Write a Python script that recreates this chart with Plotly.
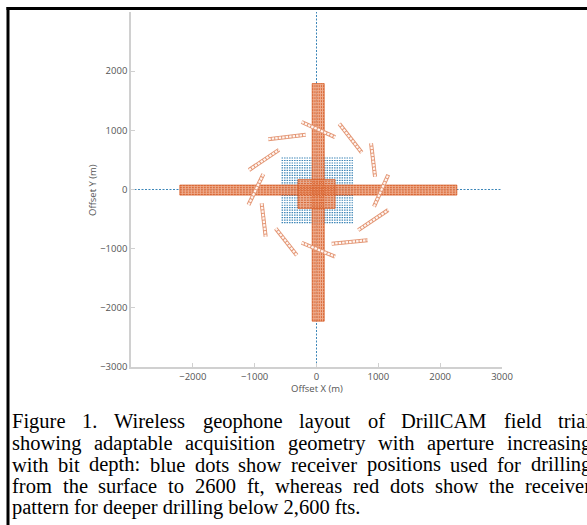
import plotly.graph_objects as go

# ---------------- data (metres) ----------------
# blue receiver rows (shallow drilling patch)
blue_row_y = [-560, -518, -476, -434, -392, -350, -308, -266, -224, -182, -140, -98, -56, -14,
              28, 70, 112, 154, 196, 238, 280, 322, 364, 406, 448, 490, 532]
blue_row_x0 = -565
blue_row_x1 = 590

# blue reference receiver lines through the origin
blue_axis_x = [[-3000, 3000], [0, 0]]
blue_axis_y = [[0, 0], [-3000, 3000]]

# red receiver bands: (x0, x1, y0, y1)
band_x0 = [-2210, -70, -300]
band_x1 = [2270, 125, 300]
band_y0 = [-95, -2225, -320]
band_y1 = [75, 1790, 170]

# rows of receivers inside the horizontal band (y) and vertical band (x)
hband_rows_y = [-85, -55, -25, 5, 35, 65]
vband_cols_x = [-60, -25, 10, 45, 80, 115]
center_rows_y = [-300, -260, -220, -180, -140, -100, -60, -20, 20, 60, 100, 140]

# pinwheel receiver lines (start and end points)
seg_x0 = [-240, -780, -1092, -1100, 369, 882, 930, -887, -660, -240, 676, 246]
seg_y0 = [1140, 851, 330, -260, 1110, 783, -290, -234, -658, -900, -686, -918]
seg_x1 = [300, -175, -607, -860, 731, 947, 1160, -822, -320, 300, 1160, 826]
seg_y1 = [885, 924, 670, 260, 624, 217, 250, -800, -1110, -1135, -347, -856]

x_tickvals = [-2000, -1000, 0, 1000, 2000, 3000]
y_tickvals = [-3000, -2000, -1000, 0, 1000, 2000]

caption_lines = [
    "Figure 1. Wireless geophone layout of DrillCAM field trial",
    "showing adaptable acquisition geometry with aperture increasing",
    "with bit depth: blue dots show receiver positions used for drilling",
    "from the surface to 2600 ft, whereas red dots show the receiver",
    "pattern for deeper drilling below 2,600 fts.",
]

# ---------------- layout constants ----------------
W, H = 587, 525
ML, MR, MT, MB = 131, 85, 12, 158
PW, PH = W - ML - MR, H - MT - MB

def pxx(px):
    return (px - ML) / PW

def pxy(py):
    return (H - MB - py) / PH

BLUE = "#3d86b8"
RED = "#d65a22"
RED_FILL = "rgba(236,160,124,0.85)"

fig = go.Figure()

# blue patch rows
bx, by = [], []
for y in blue_row_y:
    bx += [blue_row_x0, blue_row_x1, None]
    by += [y, y, None]
fig.add_trace(go.Scatter(x=bx, y=by, mode="lines",
                         line=dict(color=BLUE, width=1.2, dash="1.5px,1px"),
                         hoverinfo="skip", showlegend=False))

# blue lines through origin
for xs, ys in zip(blue_axis_x, blue_axis_y):
    fig.add_trace(go.Scatter(x=xs, y=ys, mode="lines",
                             line=dict(color=BLUE, width=1, dash="2px,1.5px"),
                             hoverinfo="skip", showlegend=False))

# red bands (filled)
for x0, x1, y0, y1 in zip(band_x0, band_x1, band_y0, band_y1):
    fig.add_trace(go.Scatter(x=[x0, x1, x1, x0, x0], y=[y0, y0, y1, y1, y0],
                             mode="lines", fill="toself", fillcolor=RED_FILL,
                             line=dict(color="rgba(214,90,34,0.7)", width=1),
                             hoverinfo="skip", showlegend=False))

# receiver rows inside the bands
rx, ry = [], []
for y in hband_rows_y:
    rx += [band_x0[0], band_x1[0], None]
    ry += [y, y, None]
for x in vband_cols_x:
    rx += [x, x, None]
    ry += [band_y0[1], band_y1[1], None]
for y in center_rows_y:
    rx += [band_x0[2], band_x1[2], None]
    ry += [y, y, None]
fig.add_trace(go.Scatter(x=rx, y=ry, mode="lines",
                         line=dict(color=RED, width=1, dash="2px,1px"),
                         opacity=0.8, hoverinfo="skip", showlegend=False))

# pinwheel ladders: orange outline + white core with gaps -> rungs
sx, sy = [], []
for a, b, c, d in zip(seg_x0, seg_y0, seg_x1, seg_y1):
    sx += [a, c, None]
    sy += [b, d, None]
fig.add_trace(go.Scatter(x=sx, y=sy, mode="lines",
                         line=dict(color="#e39573", width=4),
                         hoverinfo="skip", showlegend=False))
fig.add_trace(go.Scatter(x=sx, y=sy, mode="lines",
                         line=dict(color="#fff6f2", width=2.2, dash="2.5px,1px"),
                         hoverinfo="skip", showlegend=False))

axis_font = dict(family="Open Sans", size=9.5, color="#555555")
fig.update_xaxes(range=[-3000, 3000], tickvals=x_tickvals,
                 ticktext=[f"{v}".replace("-", "\u2212") for v in x_tickvals],
                 showgrid=False, zeroline=False, showline=True,
                 linecolor="#d0d0d0", linewidth=1.5, ticks="inside", ticklen=4,
                 tickcolor="#d0d0d0", tickfont=axis_font)
fig.update_yaxes(range=[-3000, 3000], tickvals=y_tickvals,
                 ticktext=[f"{v}".replace("-", "\u2212") for v in y_tickvals],
                 showgrid=False, zeroline=False, showline=True,
                 linecolor="#d0d0d0", linewidth=1.5, ticks="inside", ticklen=4,
                 tickcolor="#d0d0d0", tickfont=axis_font)

annotations = [
    dict(text="Offset X (m)", xref="paper", yref="paper", x=pxx(317), y=pxy(388),
         showarrow=False, font=axis_font, xanchor="center", yanchor="middle"),
    dict(text="Offset Y (m)", xref="paper", yref="paper", x=pxx(92), y=pxy(190),
         showarrow=False, font=axis_font, textangle=-90, xanchor="center", yanchor="middle"),
]

# ---- caption, justified: word positions from Times/Liberation Serif advance widths ----
TIMES_W = {
    " ": 250, ",": 250, ".": 250, ":": 278, "0": 500, "1": 500, "2": 500, "6": 500,
    "A": 722, "C": 667, "D": 722, "F": 556, "M": 889, "W": 944,
    "a": 444, "b": 500, "c": 444, "d": 500, "e": 444, "f": 333, "g": 500, "h": 500,
    "i": 278, "l": 278, "m": 778, "n": 500, "o": 500, "p": 500, "q": 500, "r": 333,
    "s": 389, "t": 278, "u": 500, "v": 500, "w": 722, "y": 500,
}
CAP_SIZE = 20.5
CAP_LEFT, CAP_RIGHT = 11, 590

def text_w(s):
    return sum(TIMES_W.get(ch, 500) for ch in s) * CAP_SIZE / 1000.0

line_centers = [421, 443, 464.5, 486, 507.5]
cap_font = dict(family="Liberation Serif", size=CAP_SIZE, color="#000000")
for i, (line, yc) in enumerate(zip(caption_lines, line_centers)):
    last = i == len(caption_lines) - 1
    if last:
        annotations.append(dict(text=line, xref="paper", yref="paper", x=pxx(CAP_LEFT),
                                y=pxy(yc), showarrow=False, font=cap_font,
                                xanchor="left", yanchor="middle", borderpad=0))
        continue
    words = line.split(" ")
    widths = [text_w(w) for w in words]
    gap = (CAP_RIGHT - CAP_LEFT - sum(widths)) / (len(words) - 1)
    xpos = CAP_LEFT
    for w, ww in zip(words, widths):
        annotations.append(dict(text=w, xref="paper", yref="paper", x=pxx(xpos), y=pxy(yc),
                                showarrow=False, font=cap_font, xanchor="left",
                                yanchor="middle", borderpad=0))
        xpos += ww + gap

shapes = [
    dict(type="line", xref="paper", yref="paper", x0=pxx(6.5), x1=pxx(600),
         y0=pxy(8.5), y1=pxy(8.5), line=dict(color="black", width=3)),
    dict(type="line", xref="paper", yref="paper", x0=pxx(8), x1=pxx(8),
         y0=pxy(7), y1=pxy(540), line=dict(color="black", width=3)),
]

fig.update_layout(width=W, height=H, margin=dict(l=ML, r=MR, t=MT, b=MB, pad=0),
                  paper_bgcolor="white", plot_bgcolor="white",
                  annotations=annotations, shapes=shapes, showlegend=False)

fig.write_html("out.html")
